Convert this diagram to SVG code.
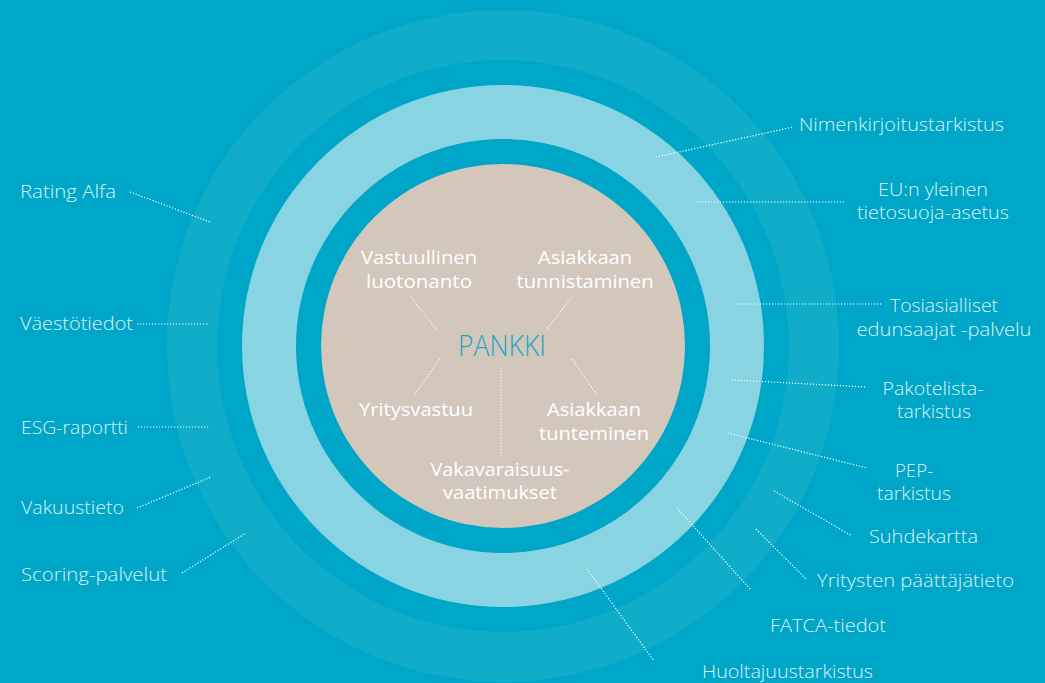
<svg xmlns="http://www.w3.org/2000/svg" width="1045" height="683" viewBox="0 0 1045 683">
<style>
.bg{fill:#00A6C7}
.r1{fill:#10ADCB}
.r2{fill:#00A6C7}
.r3{fill:#88D4E2}
.r4{fill:#00A6C7}
.core{fill:#D3C7BB}
.out{font-family:"Open Sans","Liberation Sans",sans-serif;font-weight:300;font-size:18.5px;fill:#DDF2F7}
.in{font-family:"Open Sans","Liberation Sans",sans-serif;font-size:18.5px;fill:#FFFFFF}
.mid{text-anchor:middle}
.hub{font-family:"Open Sans","Liberation Sans",sans-serif;font-weight:300;font-size:29px;fill:#1CA8C7;text-anchor:middle}
.dot{stroke:#FFFFFF;stroke-width:1.2;stroke-dasharray:1.2 1.8;fill:none}
</style>
<rect class="bg" x="0" y="0" width="1045" height="683"/>
<g id="rings">
<circle class="r1" cx="503" cy="346" r="336"/>
<circle class="r2" cx="503" cy="346" r="286"/>
<circle class="r3" cx="503" cy="346" r="261"/>
<circle class="r4" cx="503" cy="346" r="207"/>
<circle class="core" cx="503" cy="346" r="182"/>
</g>
<g id="connectors">
<line class="dot" x1="130" y1="192" x2="210" y2="222"/>
<line class="dot" x1="137" y1="324" x2="209" y2="324"/>
<line class="dot" x1="138" y1="427" x2="209" y2="427"/>
<line class="dot" x1="137" y1="508" x2="211" y2="477"/>
<line class="dot" x1="182" y1="573" x2="246" y2="533"/>
<line class="dot" x1="656" y1="157" x2="793" y2="127"/>
<line class="dot" x1="696" y1="202" x2="844" y2="202"/>
<line class="dot" x1="733" y1="304" x2="882" y2="304"/>
<line class="dot" x1="732" y1="380" x2="867" y2="387"/>
<line class="dot" x1="728" y1="433" x2="867" y2="468"/>
<line class="dot" x1="774" y1="491" x2="852" y2="536"/>
<line class="dot" x1="756" y1="529" x2="806" y2="579"/>
<line class="dot" x1="677" y1="508" x2="751" y2="590"/>
<line class="dot" x1="587" y1="569" x2="654" y2="661"/>
<line class="dot" x1="411" y1="297" x2="436" y2="329"/>
<line class="dot" x1="572" y1="297" x2="547" y2="329"/>
<line class="dot" x1="440" y1="359" x2="415" y2="394"/>
<line class="dot" x1="501" y1="368" x2="501" y2="458"/>
<line class="dot" x1="572" y1="359" x2="597" y2="395"/>
</g>
<g id="pankki"><text class="hub" x="502" y="356" textLength="88" lengthAdjust="spacingAndGlyphs">PANKKI</text></g>
<g id="vastuullinen-luotonanto"><text class="in mid" x="419" y="264" textLength="116" lengthAdjust="spacingAndGlyphs">Vastuullinen</text><text class="in mid" x="419" y="288" textLength="106" lengthAdjust="spacingAndGlyphs">luotonanto</text></g>
<g id="asiakkaan-tunnistaminen"><text class="in mid" x="585" y="264" textLength="94" lengthAdjust="spacingAndGlyphs">Asiakkaan</text><text class="in mid" x="585" y="288" textLength="137" lengthAdjust="spacingAndGlyphs">tunnistaminen</text></g>
<g id="yritysvastuu"><text class="in mid" x="416" y="416" textLength="114" lengthAdjust="spacingAndGlyphs">Yritysvastuu</text></g>
<g id="asiakkaan-tunteminen"><text class="in mid" x="594" y="416" textLength="94" lengthAdjust="spacingAndGlyphs">Asiakkaan</text><text class="in mid" x="594" y="440" textLength="110" lengthAdjust="spacingAndGlyphs">tunteminen</text></g>
<g id="vakavaraisuusvaatimukset"><text class="in mid" x="500" y="476" textLength="139" lengthAdjust="spacingAndGlyphs">Vakavaraisuus-</text><text class="in mid" x="500" y="499" textLength="114" lengthAdjust="spacingAndGlyphs">vaatimukset</text></g>
<g id="rating-alfa"><text class="out" x="20" y="198" textLength="96" lengthAdjust="spacingAndGlyphs">Rating Alfa</text></g>
<g id="vaestotiedot"><text class="out" x="20" y="330" textLength="113" lengthAdjust="spacingAndGlyphs">Väestötiedot</text></g>
<g id="esg-raportti"><text class="out" x="21" y="434" textLength="107" lengthAdjust="spacingAndGlyphs">ESG-raportti</text></g>
<g id="vakuustieto"><text class="out" x="21" y="514" textLength="103" lengthAdjust="spacingAndGlyphs">Vakuustieto</text></g>
<g id="scoring-palvelut"><text class="out" x="21" y="581" textLength="146" lengthAdjust="spacingAndGlyphs">Scoring-palvelut</text></g>
<g id="nimenkirjoitustarkistus"><text class="out" x="799" y="131" textLength="205" lengthAdjust="spacingAndGlyphs">Nimenkirjoitustarkistus</text></g>
<g id="eu-tietosuoja"><text class="out mid" x="933" y="196" textLength="110" lengthAdjust="spacingAndGlyphs">EU:n yleinen</text><text class="out mid" x="933" y="219" textLength="152" lengthAdjust="spacingAndGlyphs">tietosuoja-asetus</text></g>
<g id="tosiasialliset"><text class="out mid" x="944" y="312" textLength="108" lengthAdjust="spacingAndGlyphs">Tosiasialliset</text><text class="out mid" x="944" y="336" textLength="175" lengthAdjust="spacingAndGlyphs">edunsaajat -palvelu</text></g>
<g id="pakotelista"><text class="out mid" x="933" y="395" textLength="101" lengthAdjust="spacingAndGlyphs">Pakotelista-</text><text class="out mid" x="934" y="418" textLength="74" lengthAdjust="spacingAndGlyphs">tarkistus</text></g>
<g id="pep"><text class="out mid" x="914" y="477" textLength="38" lengthAdjust="spacingAndGlyphs">PEP-</text><text class="out mid" x="914" y="500" textLength="74" lengthAdjust="spacingAndGlyphs">tarkistus</text></g>
<g id="suhdekartta"><text class="out" x="869" y="543" textLength="109" lengthAdjust="spacingAndGlyphs">Suhdekartta</text></g>
<g id="yritysten-paattajatieto"><text class="out" x="817" y="587" textLength="197" lengthAdjust="spacingAndGlyphs">Yritysten päättäjätieto</text></g>
<g id="fatca"><text class="out" x="770" y="632" textLength="116" lengthAdjust="spacingAndGlyphs">FATCA-tiedot</text></g>
<g id="huoltajuustarkistus"><text class="out" x="702" y="678" textLength="171" lengthAdjust="spacingAndGlyphs">Huoltajuustarkistus</text></g>
</svg>
